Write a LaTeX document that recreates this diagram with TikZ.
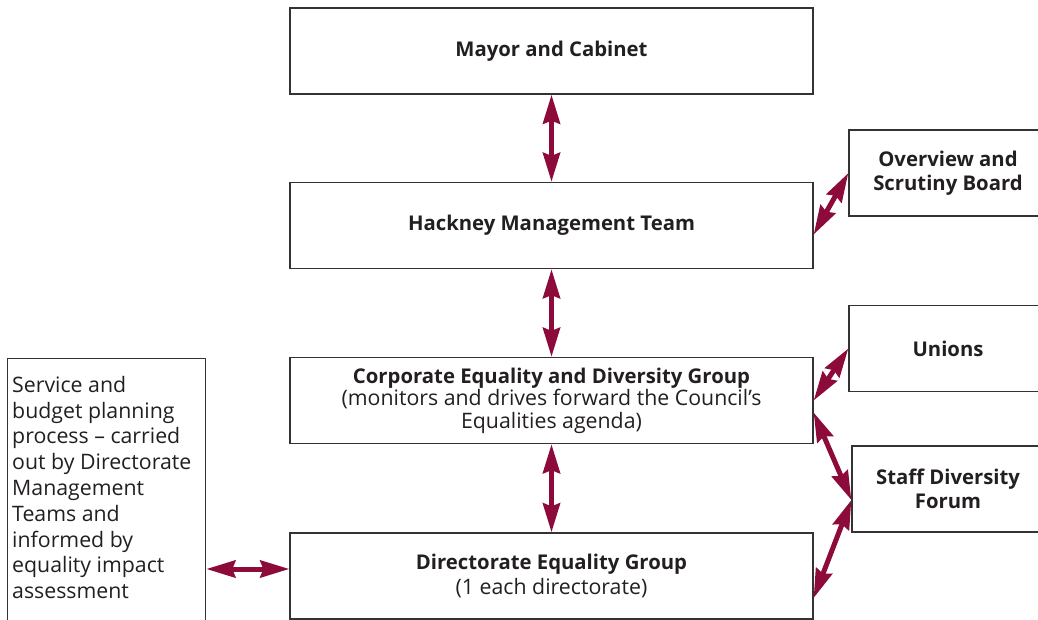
\documentclass[tikz,border=0pt]{standalone}
\usepackage{fontspec}
\setmainfont{Open Sans}
\usetikzlibrary{arrows.meta,calc}
\definecolor{arrowred}{HTML}{8C0B3B}
\definecolor{boxline}{HTML}{333333}
\definecolor{ink}{HTML}{231F20}
\newcommand\rgl[1]{{\fontsize{21.3}{22}\selectfont #1}}
\tikzset{
  box/.style={draw=boxline, line width=1.3pt, rectangle, inner sep=0pt, text=ink, align=center, font=\fontsize{20.3}{22.5}\selectfont\bfseries},
  wide/.style={box, minimum width=523pt, minimum height=86pt},
  side/.style={box, minimum width=198pt, minimum height=86pt, font=\fontsize{20.3}{24.5}\selectfont\bfseries},
  arr/.style={draw=arrowred, line width=5pt, {Stealth[length=29pt,width=17pt,inset=3pt]}-{Stealth[length=29pt,width=17pt,inset=3pt]}},
}
\begin{document}
\begin{tikzpicture}[x=1pt,y=-1pt]
\useasboundingbox (0,0) rectangle (1038,619);
\clip (0,0) rectangle (1038,619);
\node[wide] (mayor) at (551.5,51) {Mayor and Cabinet};
\node[wide] (hmt) at (551.5,225.5) {Hackney Management Team};
\node[wide] (ceg) at (551.5,400.5) {Corporate Equality and Diversity Group\\\rgl{\mdseries (monitors and drives forward the Council's}\\\rgl{\mdseries Equalities agenda)}};
\node[wide] (deg) at (551.5,576) {Directorate Equality Group\\[2pt]\rgl{\mdseries (1 each directorate)}};
\node[side] (ovr) at (948,173) {Overview and\\Scrutiny Board};
\node[side] (uni) at (948,348.5) {Unions};
\node[side, minimum width=192pt] (staff) at (948,489) {Staff Diversity\\Forum};
\node[box, minimum width=198pt, minimum height=290pt, anchor=north west] (left) at (7,358) {};
\node[anchor=north west, align=left, inner sep=0pt, text=ink, font=\fontsize{21.3}{25.8}\selectfont] (lefttext) at (12,376) {Service and\\budget planning\\process -- carried\\out by Directorate\\Management\\Teams and\\informed by\\equality impact\\assessment};
\draw[arr] (mayor.south) -- (hmt.north);
\draw[arr] (hmt.south) -- (ceg.north);
\draw[arr] (ceg.south) -- (deg.north);
\draw[arr] ([yshift=-9pt]hmt.east) -- (ovr.west);
\draw[arr] (ceg.east) -- (uni.west);
\draw[arr] ([yshift=-12pt]ceg.east) -- ([yshift=-11pt]staff.west);
\draw[arr] ([yshift=-22pt]deg.east) -- ([yshift=-11pt]staff.west);
\draw[arr] ([yshift=7pt]deg.west -| left.east) -- ([yshift=7pt]deg.west);
\end{tikzpicture}
\end{document}
